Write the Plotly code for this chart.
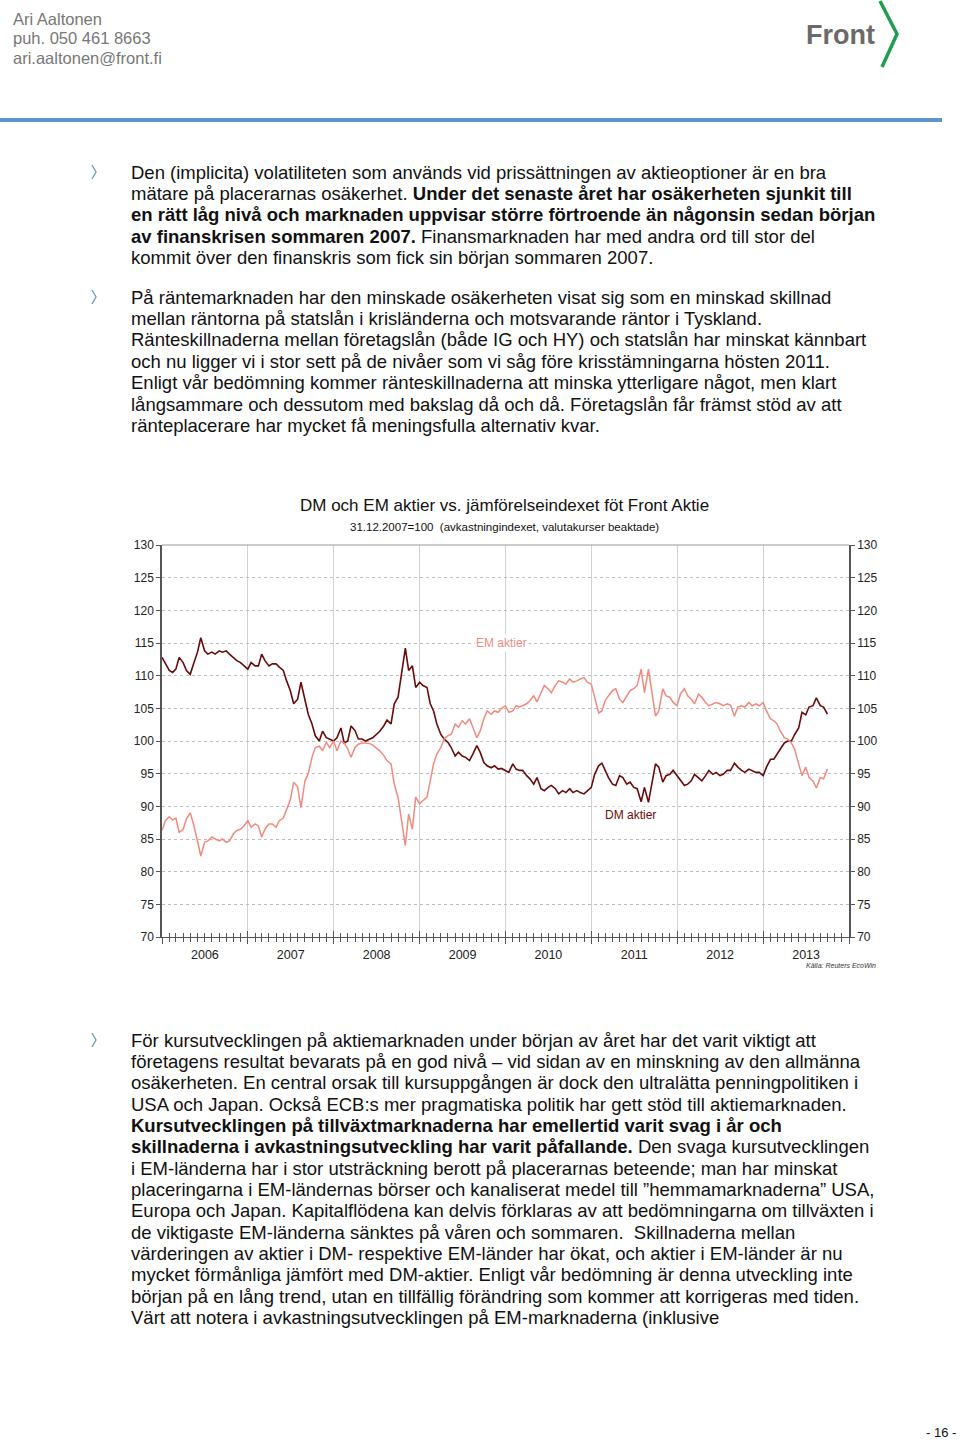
import pandas as pd
import plotly.graph_objects as go

W, H = 960, 1440

# semi-monthly readings, 1 Jan 2006 .. 1 Oct 2013 (31.12.2007 = 100)
dates = pd.date_range("2006-01-01", periods=187, freq="SMS")

dm_aktier = [
    112.8, 111.8, 110.8, 110.5, 111.0, 112.8, 112.0, 110.8, 110.2, 111.8,
    113.6, 115.8, 113.8, 113.3, 113.6, 113.3, 113.8, 113.6, 113.8, 113.3,
    112.8, 112.3, 112.0, 111.5, 111.0, 112.0, 111.5, 111.5, 113.3, 112.3,
    111.5, 111.8, 111.8, 111.3, 110.8, 109.2, 107.7, 105.7, 106.4, 109.0,
    106.1, 104.1, 102.6, 100.8, 100.0, 101.5, 100.5, 100.3, 100.0, 100.5,
    102.0, 99.7, 100.0, 102.3, 101.6, 100.3, 100.3, 100.0, 100.3, 100.5,
    101.0, 101.5, 102.3, 103.2, 102.6, 105.7, 106.7, 110.3, 114.2, 110.8,
    111.5, 108.2, 109.0, 108.5, 108.2, 105.7, 104.6, 102.6, 101.0, 100.3,
    99.8, 99.0, 97.7, 98.3, 97.7, 97.5, 97.0, 98.0, 99.3, 98.3,
    96.7, 96.2, 95.9, 96.2, 95.7, 95.8, 95.5, 95.2, 96.5, 95.7,
    95.5, 95.5, 94.7, 94.2, 93.4, 94.4, 92.7, 92.4, 92.9, 93.2,
    92.7, 91.9, 92.4, 92.1, 92.7, 92.1, 92.4, 92.1, 91.9, 92.4,
    92.9, 94.9, 96.2, 96.6, 95.5, 94.4, 93.4, 93.2, 94.7, 94.4,
    93.4, 93.7, 92.9, 92.7, 90.7, 92.9, 90.6, 93.4, 96.5, 96.0,
    93.7, 94.7, 94.9, 95.5, 94.7, 93.9, 93.2, 93.4, 93.9, 94.9,
    94.4, 93.9, 94.7, 95.5, 94.9, 95.2, 94.7, 94.9, 95.5, 95.5,
    96.6, 96.0, 95.5, 95.2, 95.7, 95.5, 95.2, 95.2, 94.7, 96.0,
    97.2, 97.2, 98.0, 98.7, 99.7, 100.0, 100.0, 101.0, 102.0, 104.4,
    104.0, 105.2, 105.4, 106.6, 105.4, 105.2, 104.1,
]

em_aktier = [
    86.3, 87.8, 88.4, 87.9, 88.2, 86.0, 86.5, 88.1, 89.0, 87.3,
    84.7, 82.4, 84.5, 84.7, 85.3, 85.0, 84.7, 85.0, 84.5, 84.7,
    85.8, 86.3, 86.5, 87.0, 87.8, 86.8, 87.3, 87.0, 85.3, 86.5,
    87.3, 87.3, 86.8, 87.8, 88.2, 89.5, 91.0, 93.7, 93.0, 89.8,
    93.9, 95.0, 97.5, 99.0, 99.2, 98.5, 99.8, 99.0, 100.0, 98.5,
    100.0, 99.7, 98.8, 97.5, 99.0, 99.5, 99.7, 99.7, 99.6, 99.4,
    98.9, 98.5, 97.8, 97.0, 96.5, 93.4, 91.4, 88.3, 84.0, 88.8,
    86.5, 91.4, 90.4, 90.9, 91.4, 93.9, 96.5, 98.0, 99.0, 100.3,
    100.8, 101.0, 102.6, 102.1, 103.1, 102.6, 103.4, 102.1, 100.5, 101.5,
    103.4, 104.6, 104.1, 104.6, 104.4, 105.0, 105.4, 104.4, 104.6, 105.4,
    105.2, 105.4, 105.7, 106.2, 106.9, 106.0, 107.4, 108.5, 108.0, 107.4,
    108.5, 109.2, 109.0, 108.7, 109.5, 109.0, 109.2, 109.5, 109.7, 109.0,
    108.7, 106.9, 104.3, 104.6, 106.2, 106.9, 107.7, 108.0, 106.4, 105.9,
    106.9, 107.7, 108.0, 108.5, 111.0, 107.4, 111.0, 107.7, 103.8, 104.6,
    108.0, 106.9, 106.7, 105.9, 105.4, 107.2, 108.0, 106.9, 106.4, 105.7,
    107.2, 106.7, 105.9, 105.4, 105.7, 105.9, 105.7, 105.4, 105.7, 105.5,
    103.8, 105.2, 105.4, 105.2, 105.9, 105.4, 105.7, 105.4, 105.9, 104.6,
    103.4, 103.1, 102.6, 101.5, 100.5, 100.3, 99.7, 98.7, 96.5, 94.7,
    96.0, 94.4, 93.9, 92.8, 94.4, 94.2, 95.7,
]

header_lines = ["Ari Aaltonen", "puh. 050 461 8663", "ari.aaltonen@front.fi"]

para1 = [
    "Den (implicita) volatiliteten som används vid prissättningen av aktieoptioner är en bra",
    "mätare på placerarnas osäkerhet. <b>Under det senaste året har osäkerheten sjunkit till</b>",
    "<b>en rätt låg nivå och marknaden uppvisar större förtroende än någonsin sedan början</b>",
    "<b>av finanskrisen sommaren 2007.</b> Finansmarknaden har med andra ord till stor del",
    "kommit över den finanskris som fick sin början sommaren 2007.",
]
para2 = [
    "På räntemarknaden har den minskade osäkerheten visat sig som en minskad skillnad",
    "mellan räntorna på statslån i krisländerna och motsvarande räntor i Tyskland.",
    "Ränteskillnaderna mellan företagslån (både IG och HY) och statslån har minskat kännbart",
    "och nu ligger vi i stor sett på de nivåer som vi såg före krisstämningarna hösten 2011.",
    "Enligt vår bedömning kommer ränteskillnaderna att minska ytterligare något, men klart",
    "långsammare och dessutom med bakslag då och då. Företagslån får främst stöd av att",
    "ränteplacerare har mycket få meningsfulla alternativ kvar.",
]
para3 = [
    "För kursutvecklingen på aktiemarknaden under början av året har det varit viktigt att",
    "företagens resultat bevarats på en god nivå – vid sidan av en minskning av den allmänna",
    "osäkerheten. En central orsak till kursuppgången är dock den ultralätta penningpolitiken i",
    "USA och Japan. Också ECB:s mer pragmatiska politik har gett stöd till aktiemarknaden.",
    "<b>Kursutvecklingen på tillväxtmarknaderna har emellertid varit svag i år och</b>",
    "<b>skillnaderna i avkastningsutveckling har varit påfallande.</b> Den svaga kursutvecklingen",
    "i EM-länderna har i stor utsträckning berott på placerarnas beteende; man har minskat",
    "placeringarna i EM-ländernas börser och kanaliserat medel till ”hemmamarknaderna” USA,",
    "Europa och Japan. Kapitalflödena kan delvis förklaras av att bedömningarna om tillväxten i",
    "de viktigaste EM-länderna sänktes på våren och sommaren.  Skillnaderna mellan",
    "värderingen av aktier i DM- respektive EM-länder har ökat, och aktier i EM-länder är nu",
    "mycket förmånliga jämfört med DM-aktier. Enligt vår bedömning är denna utveckling inte",
    "början på en lång trend, utan en tillfällig förändring som kommer att korrigeras med tiden.",
    "Värt att notera i avkastningsutvecklingen på EM-marknaderna (inklusive",
]

FONT = "Liberation Sans, Arial, sans-serif"
DM_COL = "#6b0a0a"
EM_COL = "#f08a7e"


def px(x):
    return x / W


def py(y):
    return 1 - y / H


fig = go.Figure()
fig.add_trace(go.Scatter(x=dates, y=em_aktier, mode="lines", name="EM aktier",
                         line=dict(color=EM_COL, width=1.5), xaxis="x2", yaxis="y2"))
fig.add_trace(go.Scatter(x=dates, y=dm_aktier, mode="lines", name="DM aktier",
                         line=dict(color=DM_COL, width=1.6)))

xr = ["2006-01-01", "2014-01-01"]
xdom = [px(162), px(849)]
ydom = [py(937), py(545)]
tickf = dict(family=FONT, size=12, color="#222")

fig.update_layout(
    width=W, height=H, margin=dict(l=0, r=0, t=0, b=0, autoexpand=False),
    paper_bgcolor="white", plot_bgcolor="white", showlegend=False,
    xaxis=dict(domain=xdom, range=xr, type="date", anchor="y", automargin=False,
               dtick="M12", tick0="2006-01-01", tickformat="%Y", ticklabelmode="period",
               ticks="outside", ticklen=6, tickcolor="#555", tickfont=dict(family=FONT, size=12.5, color="#222"),
               showline=True, linecolor="#555", linewidth=1,
               showgrid=True, gridcolor="#d2d2d2", gridwidth=1, zeroline=False,
               minor=dict(dtick="M1", ticks="outside", ticklen=4, tickcolor="#555", showgrid=False)),
    xaxis2=dict(domain=xdom, range=xr, type="date", anchor="y2", overlaying="x", automargin=False,
                dtick="M12", tick0="2006-01-01", showticklabels=False,
                ticks="inside", ticklen=6, tickcolor="#555", showgrid=False, showline=False,
                minor=dict(dtick="M1", ticks="inside", ticklen=4, tickcolor="#555", showgrid=False)),
    yaxis=dict(domain=ydom, range=[70, 130], dtick=5, anchor="x", automargin=False,
               ticks="outside", ticklen=4, tickcolor="#555", tickfont=tickf,
               showline=True, linecolor="#555", linewidth=1.5,
               showgrid=True, gridcolor="#bdbdbd", griddash="dot", gridwidth=1, zeroline=False),
    yaxis2=dict(domain=ydom, range=[70, 130], dtick=5, anchor="x2", overlaying="y", side="right",
                automargin=False, ticks="outside", ticklen=4, tickcolor="#555", tickfont=tickf,
                showline=True, linecolor="#555", linewidth=1.5, showgrid=False, zeroline=False),
)

shapes = []
# top frame of the chart
shapes.append(dict(type="line", xref="paper", yref="paper", x0=xdom[0], x1=xdom[1], y0=ydom[1], y1=ydom[1],
                   line=dict(color="#9a9a9a", width=1)))
# blue rule under header
shapes.append(dict(type="line", xref="paper", yref="paper", x0=0, x1=px(942), y0=py(120), y1=py(120),
                   line=dict(color="#5b97cc", width=4)))
# green chevron of the logo
shapes.append(dict(type="path", xref="paper", yref="paper",
                   path=f"M {px(880)} {py(1)} L {px(897)} {py(34)} L {px(882)} {py(67)}",
                   line=dict(color="#1e9e4e", width=3.5)))
# bullets
for by in [172, 297, 1040]:
    shapes.append(dict(type="path", xref="paper", yref="paper",
                       path=f"M {px(92)} {py(by - 7)} L {px(96)} {py(by)} L {px(92)} {py(by + 7)}",
                       line=dict(color="#6a9fd0", width=1.4)))
fig.update_layout(shapes=shapes)

ann = []


def text(x, y, s, size=18.5, color="#111", xanchor="left", family=FONT):
    ann.append(dict(x=px(x), y=py(y), xref="paper", yref="paper", text=s, showarrow=False,
                    xanchor=xanchor, yanchor="middle", align="left",
                    font=dict(family=family, size=size, color=color)))


for i, s in enumerate(header_lines):
    text(11, 19 + i * 19.5, s, size=16.5, color="#777")
text(877, 35, "<b>Front</b>", size=27, color="#6a6a6a", xanchor="right",
     family="Liberation Sans Narrow, Liberation Sans, Arial")

for i, s in enumerate(para1):
    text(129, 172 + i * 21.4, s)
for i, s in enumerate(para2):
    text(129, 297 + i * 21.4, s)
for i, s in enumerate(para3):
    text(129, 1040 + i * 21.35, s)

text(505, 506, "DM och EM aktier vs. jämförelseindexet föt Front Aktie", size=17, color="#111", xanchor="center")
text(505, 527, "31.12.2007=100  (avkastningindexet, valutakurser beaktade)", size=11.5, color="#111", xanchor="center")
text(878, 966, "<i>Källa: Reuters EcoWin</i>", size=7, color="#333", xanchor="right")
text(958, 1432, "- 16 -", size=13, color="#111", xanchor="right")

ann.append(dict(x="2009-12-15", y=115, xref="x", yref="y", text="EM aktier", showarrow=False,
                bgcolor="white", font=dict(family=FONT, size=12, color=EM_COL)))
ann.append(dict(x="2011-06-15", y=88.7, xref="x", yref="y", text="DM aktier", showarrow=False,
                bgcolor="white", font=dict(family=FONT, size=12, color=DM_COL)))
fig.update_layout(annotations=ann)

# the page's default body margin would push the fixed-size figure off the window
fig.write_html("out.html", config={"displayModeBar": False},
               post_script="document.body.style.margin='0';document.body.style.overflow='hidden';")
